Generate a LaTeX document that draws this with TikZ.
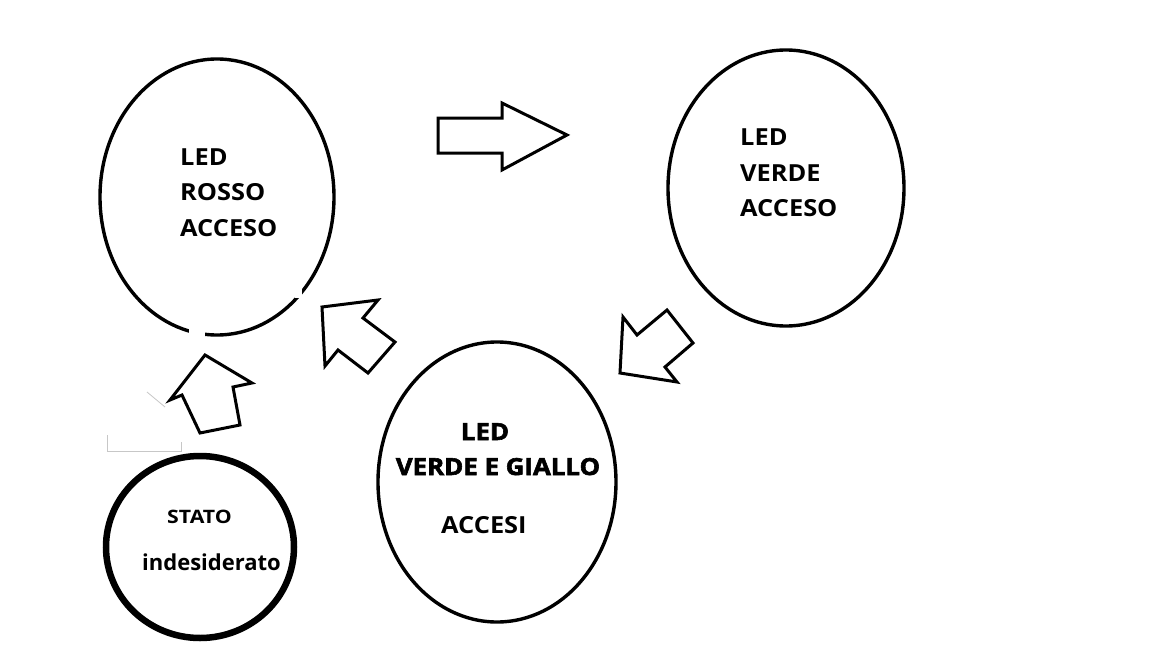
\documentclass[tikz,border=0pt]{standalone}
\usepackage{fontspec}
\setmainfont{Open Sans}
\newfontfamily\heavyfont[FakeBold=2.5,FakeStretch=1.1]{Open Sans Bold}
\newfontfamily\widefont[FakeStretch=1.08]{Open Sans Bold}
\newfontfamily\widerfont[FakeStretch=1.15]{Open Sans Bold}
\usetikzlibrary{shapes.geometric}
\tikzset{
  state/.style={draw, ellipse, line width=3.4pt, inner sep=0pt},
  blockarrow/.style={draw, line width=3pt, fill=white, line join=miter},
  lbl/.style={anchor=base west, inner sep=0pt, font=\fontsize{23.5}{28}\selectfont\widefont},
  heavylbl/.style={anchor=base west, inner sep=0pt, font=\fontsize{23.5}{28}\selectfont\heavyfont},
  artifact/.style={draw=black!22, line width=0.8pt}
}
\begin{document}
\begin{tikzpicture}[x=1pt,y=-1pt]
\path[use as bounding box, fill=white] (0,0) rectangle (1152,648);

% states
\node[state, minimum width=234, minimum height=276] (rosso) at (217,197) {};
\node[state, minimum width=236, minimum height=276] (verde) at (786,188) {};
\node[state, minimum width=238, minimum height=280] (giallo) at (497,482) {};
\node[state, line width=6.5pt, minimum width=188, minimum height=182] (stato) at (200,547) {};

% small gaps in the outlines
\fill[white] (189,326) rectangle (205,342);
\fill[white] (295,289) rectangle (302,298);

% labels
\node[lbl] (r1) at (180,165) {LED};
\node[lbl] (r2) at (180,200) {ROSSO};
\node[lbl] (r3) at (180,236) {ACCESO};

\node[lbl] (v1) at (740,145) {LED};
\node[lbl] (v2) at (740,181) {VERDE};
\node[lbl] (v3) at (740,216) {ACCESO};

\node[heavylbl, anchor=base] (g1) at (485,440) {LED};
\node[heavylbl, anchor=base] (g2) at (498,475) {VERDE E GIALLO};
\node[lbl] (g3) at (441,533) {ACCESI};

\node[anchor=base west, inner sep=0pt, font=\fontsize{18.5}{22}\selectfont\widerfont] (s1) at (167,523) {STATO};
\node[anchor=base west, inner sep=0pt, font=\fontsize{22}{26}\selectfont\bfseries] (s2) at (142,570) {indesiderato};

% block arrows
\draw[blockarrow] (438,118) -- (502,118) -- (502,103) -- (567,135) -- (502,170) -- (502,153) -- (438,153) -- cycle;
\draw[blockarrow] (205,355) -- (252,383) -- (233,387) -- (240,425) -- (200,433) -- (182,395) -- (170,400) -- cycle;
\draw[blockarrow] (322,307) -- (378,300) -- (363,318) -- (395,342) -- (368,373) -- (338,350) -- (325,366) -- cycle;
\draw[blockarrow] (620,373) -- (623,317) -- (637,335) -- (667,310) -- (693,343) -- (665,367) -- (677,382) -- cycle;

% faint leftover marks
\coordinate (a1) at (107,435);
\coordinate (a2) at (107,451);
\coordinate (a3) at (181,451);
\coordinate (a4) at (181,442);
\draw[artifact] (a1) -- (a2) -- (a3) -- (a4);
\coordinate (b1) at (147,392);
\coordinate (b2) at (165,407);
\draw[artifact] (b1) -- (b2);
\end{tikzpicture}
\end{document}
